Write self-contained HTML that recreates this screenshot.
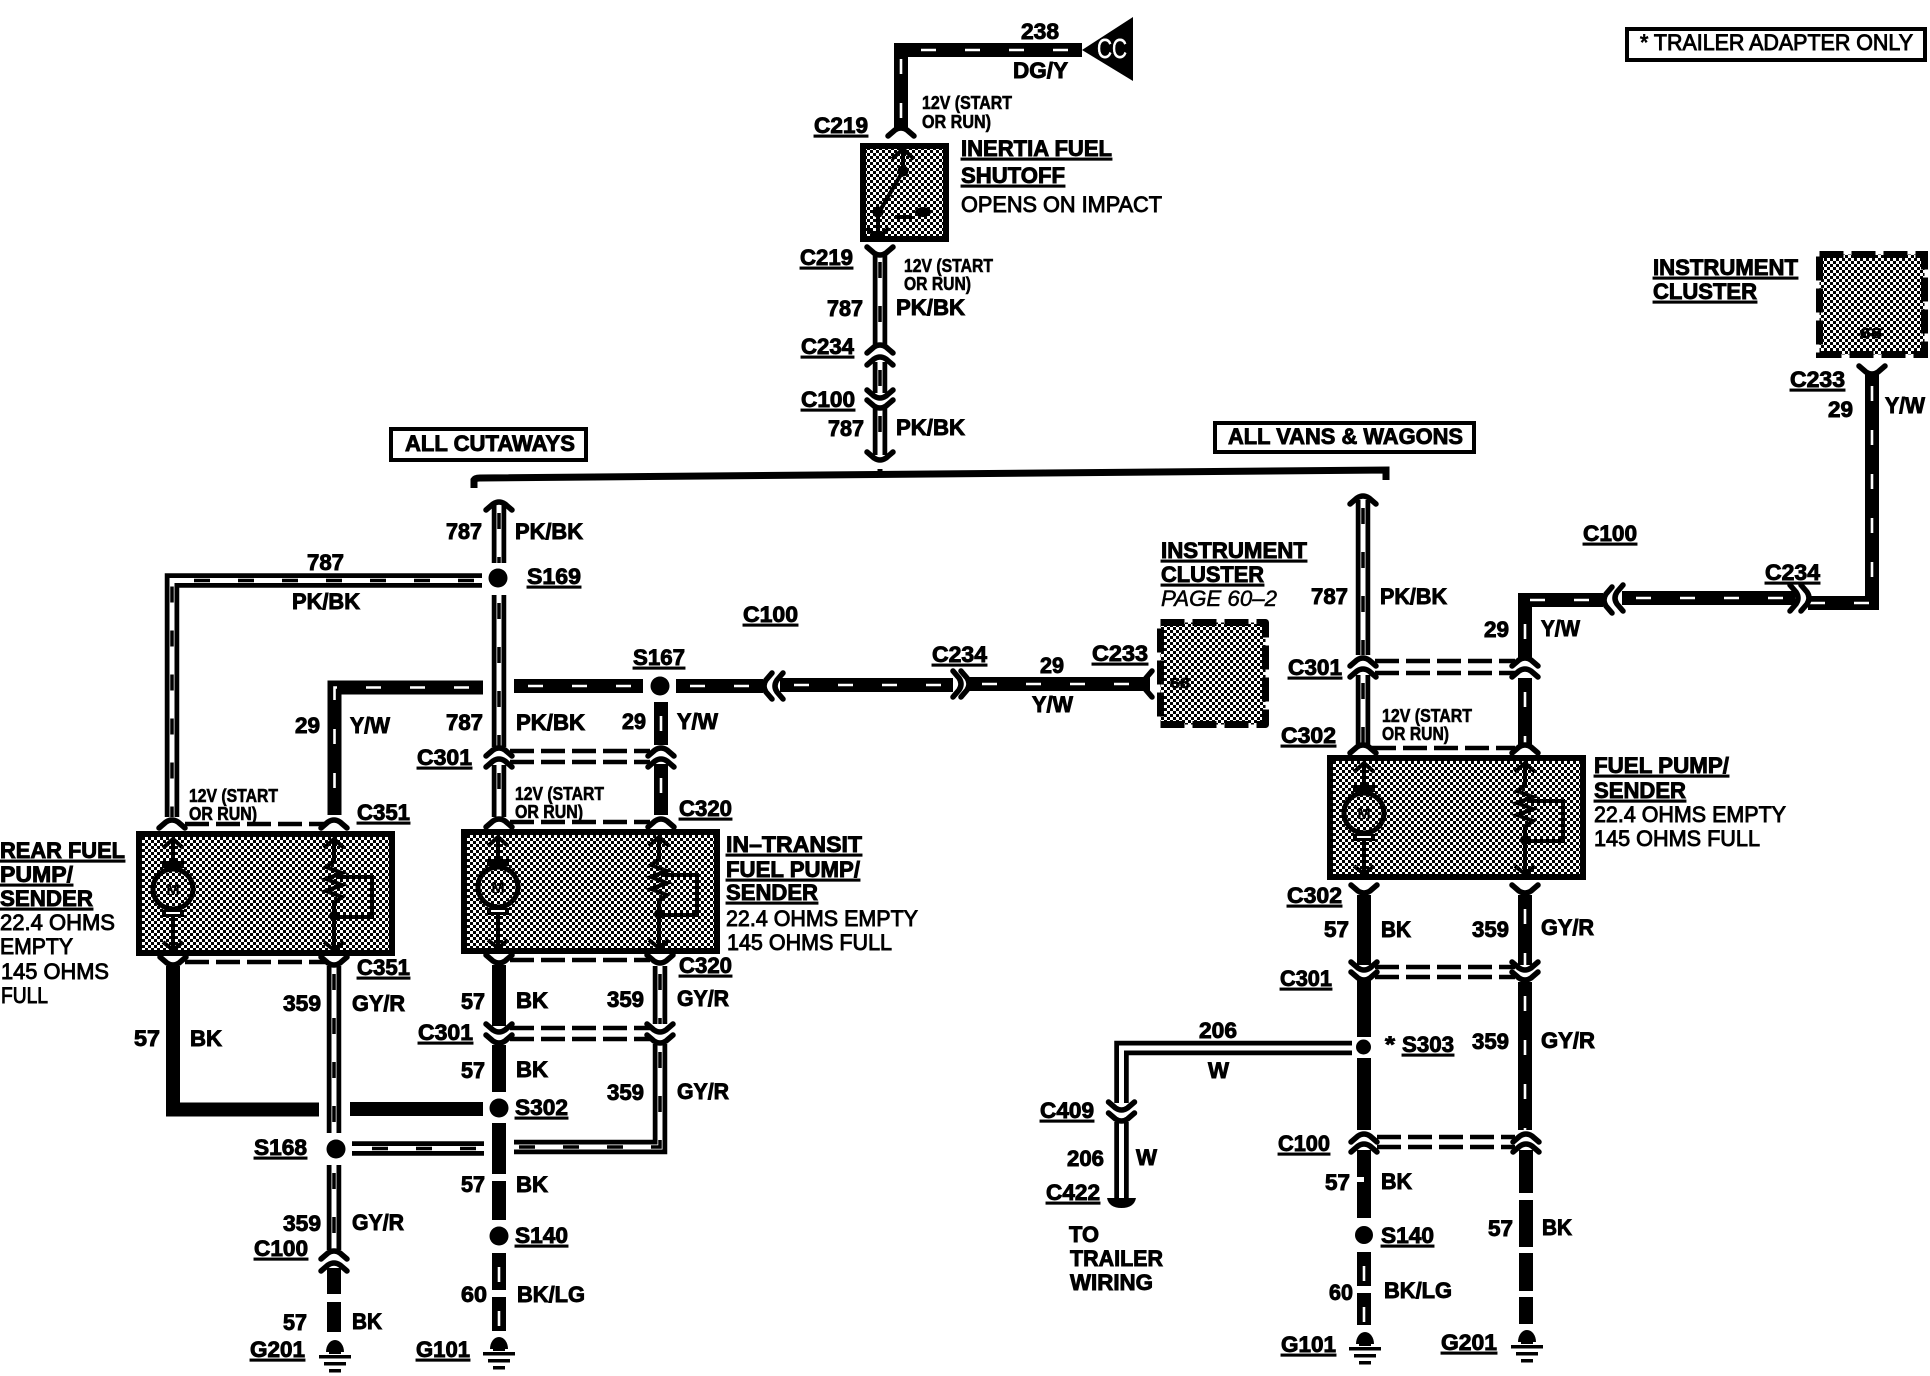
<!DOCTYPE html>
<html><head><meta charset="utf-8"><title>Fuel pump wiring diagram</title>
<style>
html,body{margin:0;padding:0;background:#fff}
svg{display:block}
text{font-family:"Liberation Sans",sans-serif;fill:#000}
.b{font-size:22px;font-weight:bold;stroke:#000;stroke-width:.9px}
.u{text-decoration:underline}
.s{font-size:18px;font-weight:bold;stroke:#000;stroke-width:.6px}
.n{font-size:22px;stroke:#000;stroke-width:.9px}
.k{fill:none;stroke:#000;stroke-width:14}
.t{fill:none;stroke:#fff;stroke-width:2.6;stroke-dasharray:15 29;stroke-dashoffset:-14}
.o1{fill:none;stroke:#000;stroke-width:14.5}
.o2{fill:none;stroke:#fff;stroke-width:5}
.o3{fill:none;stroke:#000;stroke-width:3.5;stroke-dasharray:16 28;stroke-dashoffset:-8}
.d{fill:none;stroke:#000;stroke-width:4.5;stroke-dasharray:24 7}
.f{fill:none;stroke:#000;stroke-width:5.5;stroke-linecap:round;stroke-linejoin:round}
</style></head><body>
<svg xmlns="http://www.w3.org/2000/svg" width="1930" height="1376" viewBox="0 0 1930 1376">
<defs>
<pattern id="p" width="6" height="6" patternUnits="userSpaceOnUse" shape-rendering="crispEdges">
<rect width="6" height="6" fill="#fff"/><rect width="3" height="3" fill="#000"/><rect x="3" y="3" width="3" height="3" fill="#000"/>
</pattern>
<path id="a" class="f" d="M-13 5L-6 -1Q0 -5 6 -1L13 5"/>
<path id="v" class="f" d="M-13 -5L-6 1Q0 5 6 1L13 -5"/>
<g id="gnd">
<path d="M-9 3A9 12 0 0 1 9 3Z" fill="#000"/><rect x="-6" y="2" width="12" height="3" fill="#000"/>
<rect x="-16" y="6" width="32" height="3.5" fill="#000"/><rect x="-11" y="13" width="22" height="3.5" fill="#000"/><rect x="-6" y="20" width="12" height="3.5" fill="#000"/>
</g>
<g id="pump">
<rect x="3" y="3" width="253" height="119" fill="url(#p)" stroke="#000" stroke-width="6"/>
<path d="M37 8V34M37 80V118" fill="none" stroke="#000" stroke-width="4"/>
<path d="M27 17L37 8L47 17M27 111L37 119L47 111" fill="none" stroke="#000" stroke-width="4"/>
<circle cx="37" cy="58" r="20" fill="url(#p)" stroke="#000" stroke-width="5"/>
<rect x="26" y="30" width="22" height="7" fill="#000"/><rect x="26" y="79" width="22" height="7" fill="#000"/>
<rect x="30" y="81" width="14" height="2" fill="#fff"/>
<text x="37" y="64" text-anchor="middle" font-size="16" font-weight="bold">M</text>
<path d="M198 8V30L190 36L206 42L190 48L206 54L190 60L206 66L198 72V118" fill="none" stroke="#000" stroke-width="4"/>
<path d="M188 17L198 8L208 17M188 111L198 119L208 111" fill="none" stroke="#000" stroke-width="4"/>
<circle cx="198" cy="85" r="5" fill="#000"/>
<path d="M200 46H236V86H198" fill="none" stroke="#000" stroke-width="4"/>
</g>
</defs>
<rect width="1930" height="1376" fill="#fff"/>

<!-- top feed -->
<polygon points="1082,50 1133,17 1133,81" fill="#000"/>
<text x="1097" y="58" textLength="30" lengthAdjust="spacingAndGlyphs" font-size="28" style="fill:#fff;stroke:#fff;stroke-width:.5px">CC</text>

<!-- outline wires -->
<path class="o1" d="M880 254V345M880 362V393M880 408V455M499 505V563M499 595V747M499 765V817M482 580.5H172V817M1363 500V655M1363 675V745M334 966V1133M334 1165V1250M660 966V1024M660 1044V1147H514M484 1148.5H352"/>
<path class="o2" d="M880 254V345M880 362V393M880 408V455M499 505V563M499 595V747M499 765V817M482 580.5H172V817M1363 500V655M1363 675V745M334 966V1133M334 1165V1250M660 966V1024M660 1044V1147H514M484 1148.5H352"/>
<path class="o3" d="M880 254V345M880 362V393M880 408V455M499 505V563M499 595V747M499 765V817M482 580.5H172V817M1363 500V655M1363 675V745M334 966V1133M334 1165V1250M660 966V1024M660 1044V1147H514M484 1148.5H352"/>
<path class="o1" d="M1354 1048H1121.5V1103M1121.5 1122V1200"/>
<path class="o2" d="M1354 1048H1121.5V1103M1121.5 1122V1200"/>
<path d="M1107 1198H1136Q1134 1208 1121.5 1208Q1109 1208 1107 1198Z" fill="#000"/>

<!-- solid wires with tracer -->
<path class="k" d="M1082 50H901V128M483 687.5H334.5V815M514 686H643M676 686H763M780 685H953M968 684H1150M661 702V745M661 764V815M1603 600H1525V660M1525 678V745M1622 598H1795M1872 372V603H1808M1525 895V965M1525 982V1130M499 1253V1290M499 1297V1331M1364 1252V1286M1364 1293V1325"/>
<path class="t" d="M1082 50H901V128M483 687.5H334.5V815M514 686H643M676 686H763M780 685H953M968 684H1150M661 702V745M661 764V815M1603 600H1525V660M1525 678V745M1622 598H1795M1872 372V603H1808M1525 895V965M1525 982V1130M499 1253V1290M499 1297V1331M1364 1252V1286M1364 1293V1325"/>

<!-- solid black wires -->
<path class="k" d="M173 966V1109.5H319M350 1109H483M499 965V1026M499 1045V1092M499 1123V1174M499 1181V1220M334 1268V1294M334 1302V1332M1364 895V965M1364 980V1038M1364 1058V1130M1364 1150V1218M1526 1150V1193M1526 1200V1247M1526 1253V1291M1526 1297V1324"/>
<rect x="1355" y="1177" width="9" height="5" fill="#fff"/>

<!-- bus -->
<path d="M474 488V480Q475 478 480 478L1386 470V480" fill="none" stroke="#000" stroke-width="7"/>
<path d="M880 476V469" stroke="#000" stroke-width="5"/>

<!-- dashed links -->
<path class="d" d="M185 824H325M510 822H650M1372 748H1515M185 962H325M510 960H650M510 751H650M510 762H650M510 1028H650M510 1039H650M1375 661H1515M1375 673H1515M1375 967H1515M1375 977H1515M1377 1137H1515M1377 1147H1515"/>

<!-- connector forks -->
<use href="#a" x="901" y="131"/><use href="#v" x="880" y="252"/>
<use href="#a" x="880" y="348"/><use href="#a" x="880" y="360"/>
<use href="#v" x="880" y="395"/><use href="#v" x="880" y="405"/><use href="#v" x="880" y="457"/>
<use href="#a" x="499" y="505"/><use href="#a" x="1363" y="499"/>
<use href="#a" x="499" y="751"/><use href="#a" x="499" y="762"/><use href="#a" x="661" y="751"/><use href="#a" x="661" y="762"/>
<use href="#a" x="499" y="822"/><use href="#a" x="661" y="822"/><use href="#a" x="172" y="823"/><use href="#a" x="334" y="823"/>
<use href="#v" x="499" y="960"/><use href="#v" x="660" y="960"/><use href="#v" x="173" y="962"/><use href="#v" x="334" y="962"/>
<use href="#v" x="499" y="1029"/><use href="#v" x="499" y="1040"/><use href="#v" x="660" y="1029"/><use href="#v" x="660" y="1040"/>
<use href="#a" x="334" y="1254"/><use href="#a" x="334" y="1266"/>
<use href="#v" x="1121.5" y="1107"/><use href="#v" x="1121.5" y="1118"/>
<use href="#a" x="1363" y="661"/><use href="#a" x="1363" y="672"/><use href="#a" x="1525" y="661"/><use href="#a" x="1525" y="672"/>
<use href="#a" x="1363" y="748"/><use href="#a" x="1525" y="748"/>
<use href="#v" x="1364" y="890"/><use href="#v" x="1525" y="890"/>
<use href="#v" x="1364" y="967"/><use href="#v" x="1364" y="977"/><use href="#v" x="1525" y="967"/><use href="#v" x="1525" y="977"/>
<use href="#a" x="1364" y="1137"/><use href="#a" x="1364" y="1147"/><use href="#a" x="1526" y="1137"/><use href="#a" x="1526" y="1147"/>
<use href="#v" x="1872" y="371"/>
<use href="#v" transform="translate(767 686) rotate(90)"/><use href="#v" transform="translate(778 686) rotate(90)"/>
<use href="#v" transform="translate(1607 600) rotate(90)"/><use href="#v" transform="translate(1618 598) rotate(90)"/>
<use href="#a" transform="translate(1795 598) rotate(90)"/><use href="#a" transform="translate(1806 598) rotate(90)"/>
<use href="#a" transform="translate(958 684) rotate(90)"/><use href="#a" transform="translate(966 684) rotate(90)"/>
<use href="#v" transform="translate(1147 684) rotate(90)"/>

<!-- splices -->
<circle cx="498" cy="578" r="9.5"/><circle cx="660" cy="686" r="9.5"/><circle cx="499" cy="1108" r="9.5"/>
<circle cx="336" cy="1149" r="9.5"/><circle cx="499" cy="1236" r="9.5"/><circle cx="1364" cy="1235" r="9"/>
<rect x="1352" y="1037" width="24" height="20" fill="#fff"/><circle cx="1363.5" cy="1047" r="7.5"/>

<!-- grounds -->
<use href="#gnd" x="335" y="1349"/><use href="#gnd" x="499" y="1346"/><use href="#gnd" x="1365" y="1341"/><use href="#gnd" x="1527" y="1339"/>

<!-- inertia switch -->
<rect x="863" y="146" width="83" height="93" fill="url(#p)" stroke="#000" stroke-width="6"/>
<path d="M903 150V171L878 214V236M892 159L903 149L914 159M867 228L878 238L889 228M895 217H912" fill="none" stroke="#000" stroke-width="4"/>
<circle cx="903" cy="171" r="5.5"/><circle cx="878" cy="212" r="5.5"/><ellipse cx="923" cy="212" rx="8" ry="5"/>

<!-- pumps -->
<use href="#pump" x="136" y="831"/><use href="#pump" x="461" y="829"/><use href="#pump" x="1327" y="755"/>

<!-- instrument clusters -->
<rect x="1160.5" y="622.5" width="105" height="102" fill="url(#p)"/>
<rect x="1160.5" y="622.5" width="105" height="102" fill="none" stroke="#000" stroke-width="7" stroke-dasharray="24 8" stroke-linejoin="round"/>
<rect x="1819.5" y="254.5" width="105" height="100" fill="url(#p)"/>
<rect x="1819.5" y="254.5" width="105" height="100" fill="none" stroke="#000" stroke-width="7" stroke-dasharray="24 8"/>
<text x="1170" y="688" font-size="15" font-weight="bold" textLength="20" lengthAdjust="spacingAndGlyphs" style="stroke:#000;stroke-width:.7px">68</text>
<text x="1860" y="338" font-size="15" font-weight="bold" textLength="22" lengthAdjust="spacingAndGlyphs" style="stroke:#000;stroke-width:.7px">68</text>

<!-- note boxes -->
<rect x="1627" y="29" width="298" height="31" fill="none" stroke="#000" stroke-width="4"/>
<rect x="391" y="429" width="195" height="31" fill="none" stroke="#000" stroke-width="4"/>
<rect x="1215" y="423" width="259" height="29" fill="none" stroke="#000" stroke-width="4"/>
<text class="n" x="1640" y="50" textLength="273" lengthAdjust="spacingAndGlyphs">* TRAILER ADAPTER ONLY</text>
<text class="b" x="405" y="451" textLength="170" lengthAdjust="spacingAndGlyphs">ALL CUTAWAYS</text>
<text class="b" x="1228" y="444" textLength="235" lengthAdjust="spacingAndGlyphs">ALL VANS &amp; WAGONS</text>

<!-- top labels -->
<text class="b" x="1021" y="39" textLength="38" lengthAdjust="spacingAndGlyphs">238</text>
<text class="b" x="1013" y="78" textLength="55" lengthAdjust="spacingAndGlyphs">DG/Y</text>
<text class="s" x="922" y="109" textLength="90" lengthAdjust="spacingAndGlyphs">12V (START</text>
<text class="s" x="922" y="128" textLength="69" lengthAdjust="spacingAndGlyphs">OR RUN)</text>
<text class="b u" x="814" y="133" textLength="54" lengthAdjust="spacingAndGlyphs">C219</text>
<text class="b u" x="961" y="156" textLength="151" lengthAdjust="spacingAndGlyphs">INERTIA FUEL</text>
<text class="b u" x="961" y="183" textLength="104" lengthAdjust="spacingAndGlyphs">SHUTOFF</text>
<text class="n" x="961" y="212" textLength="201" lengthAdjust="spacingAndGlyphs">OPENS ON IMPACT</text>
<text class="b u" x="800" y="265" textLength="53" lengthAdjust="spacingAndGlyphs">C219</text>
<text class="s" x="904" y="272" textLength="89" lengthAdjust="spacingAndGlyphs">12V (START</text>
<text class="s" x="904" y="290" textLength="67" lengthAdjust="spacingAndGlyphs">OR RUN)</text>
<text class="b" x="827" y="316" textLength="36" lengthAdjust="spacingAndGlyphs">787</text>
<text class="b" x="896" y="315" textLength="69" lengthAdjust="spacingAndGlyphs">PK/BK</text>
<text class="b u" x="801" y="354" textLength="53" lengthAdjust="spacingAndGlyphs">C234</text>
<text class="b u" x="801" y="407" textLength="54" lengthAdjust="spacingAndGlyphs">C100</text>
<text class="b" x="828" y="436" textLength="36" lengthAdjust="spacingAndGlyphs">787</text>
<text class="b" x="896" y="435" textLength="69" lengthAdjust="spacingAndGlyphs">PK/BK</text>

<!-- upper right -->
<text class="b u" x="1653" y="275" textLength="145" lengthAdjust="spacingAndGlyphs">INSTRUMENT</text>
<text class="b u" x="1653" y="299" textLength="104" lengthAdjust="spacingAndGlyphs">CLUSTER</text>
<text class="b u" x="1790" y="387" textLength="55" lengthAdjust="spacingAndGlyphs">C233</text>
<text class="b" x="1828" y="417" textLength="25" lengthAdjust="spacingAndGlyphs">29</text>
<text class="b" x="1885" y="413" textLength="40" lengthAdjust="spacingAndGlyphs">Y/W</text>
<text class="b u" x="1583" y="541" textLength="54" lengthAdjust="spacingAndGlyphs">C100</text>
<text class="b u" x="1765" y="580" textLength="55" lengthAdjust="spacingAndGlyphs">C234</text>
<text class="b" x="1311" y="604" textLength="37" lengthAdjust="spacingAndGlyphs">787</text>
<text class="b" x="1380" y="604" textLength="67" lengthAdjust="spacingAndGlyphs">PK/BK</text>
<text class="b" x="1484" y="637" textLength="25" lengthAdjust="spacingAndGlyphs">29</text>
<text class="b" x="1541" y="636" textLength="39" lengthAdjust="spacingAndGlyphs">Y/W</text>
<text class="b u" x="1288" y="675" textLength="54" lengthAdjust="spacingAndGlyphs">C301</text>
<text class="s" x="1382" y="722" textLength="90" lengthAdjust="spacingAndGlyphs">12V (START</text>
<text class="s" x="1382" y="740" textLength="67" lengthAdjust="spacingAndGlyphs">OR RUN)</text>
<text class="b u" x="1281" y="743" textLength="55" lengthAdjust="spacingAndGlyphs">C302</text>
<text class="b u" x="1594" y="773" textLength="135" lengthAdjust="spacingAndGlyphs">FUEL PUMP/</text>
<text class="b u" x="1594" y="798" textLength="92" lengthAdjust="spacingAndGlyphs">SENDER</text>
<text class="n" x="1594" y="822" textLength="192" lengthAdjust="spacingAndGlyphs">22.4 OHMS EMPTY</text>
<text class="n" x="1594" y="846" textLength="166" lengthAdjust="spacingAndGlyphs">145 OHMS FULL</text>
<text class="b u" x="1287" y="903" textLength="55" lengthAdjust="spacingAndGlyphs">C302</text>
<text class="b" x="1324" y="937" textLength="25" lengthAdjust="spacingAndGlyphs">57</text>
<text class="b" x="1381" y="937" textLength="30" lengthAdjust="spacingAndGlyphs">BK</text>
<text class="b" x="1472" y="937" textLength="37" lengthAdjust="spacingAndGlyphs">359</text>
<text class="b" x="1541" y="935" textLength="53" lengthAdjust="spacingAndGlyphs">GY/R</text>
<text class="b u" x="1280" y="986" textLength="52" lengthAdjust="spacingAndGlyphs">C301</text>
<text class="b" x="1385" y="1052" textLength="10" lengthAdjust="spacingAndGlyphs">*</text>
<text class="b u" x="1402" y="1052" textLength="52" lengthAdjust="spacingAndGlyphs">S303</text>
<text class="b" x="1472" y="1049" textLength="37" lengthAdjust="spacingAndGlyphs">359</text>
<text class="b" x="1541" y="1048" textLength="54" lengthAdjust="spacingAndGlyphs">GY/R</text>
<text class="b" x="1199" y="1038" textLength="38" lengthAdjust="spacingAndGlyphs">206</text>
<text class="b" x="1208" y="1078" textLength="21" lengthAdjust="spacingAndGlyphs">W</text>
<text class="b u" x="1040" y="1118" textLength="54" lengthAdjust="spacingAndGlyphs">C409</text>
<text class="b" x="1067" y="1166" textLength="37" lengthAdjust="spacingAndGlyphs">206</text>
<text class="b" x="1136" y="1165" textLength="21" lengthAdjust="spacingAndGlyphs">W</text>
<text class="b u" x="1046" y="1200" textLength="54" lengthAdjust="spacingAndGlyphs">C422</text>
<text class="b" x="1069" y="1242" textLength="30" lengthAdjust="spacingAndGlyphs">TO</text>
<text class="b" x="1070" y="1266" textLength="93" lengthAdjust="spacingAndGlyphs">TRAILER</text>
<text class="b" x="1070" y="1290" textLength="83" lengthAdjust="spacingAndGlyphs">WIRING</text>
<text class="b u" x="1278" y="1151" textLength="52" lengthAdjust="spacingAndGlyphs">C100</text>
<text class="b" x="1325" y="1190" textLength="25" lengthAdjust="spacingAndGlyphs">57</text>
<text class="b" x="1381" y="1189" textLength="31" lengthAdjust="spacingAndGlyphs">BK</text>
<text class="b u" x="1381" y="1243" textLength="53" lengthAdjust="spacingAndGlyphs">S140</text>
<text class="b" x="1329" y="1300" textLength="24" lengthAdjust="spacingAndGlyphs">60</text>
<text class="b" x="1384" y="1298" textLength="68" lengthAdjust="spacingAndGlyphs">BK/LG</text>
<text class="b u" x="1281" y="1352" textLength="55" lengthAdjust="spacingAndGlyphs">G101</text>
<text class="b u" x="1441" y="1350" textLength="56" lengthAdjust="spacingAndGlyphs">G201</text>
<text class="b" x="1488" y="1236" textLength="25" lengthAdjust="spacingAndGlyphs">57</text>
<text class="b" x="1542" y="1235" textLength="30" lengthAdjust="spacingAndGlyphs">BK</text>

<!-- center -->
<text class="b u" x="1161" y="558" textLength="146" lengthAdjust="spacingAndGlyphs">INSTRUMENT</text>
<text class="b u" x="1161" y="582" textLength="103" lengthAdjust="spacingAndGlyphs">CLUSTER</text>
<text class="n" x="1161" y="606" font-style="italic" textLength="116" lengthAdjust="spacingAndGlyphs" style="stroke-width:.5px">PAGE 60–2</text>
<text class="b u" x="932" y="662" textLength="55" lengthAdjust="spacingAndGlyphs">C234</text>
<text class="b" x="1040" y="673" textLength="24" lengthAdjust="spacingAndGlyphs">29</text>
<text class="b u" x="1092" y="661" textLength="56" lengthAdjust="spacingAndGlyphs">C233</text>
<text class="b" x="1032" y="712" textLength="41" lengthAdjust="spacingAndGlyphs">Y/W</text>
<text class="b u" x="743" y="622" textLength="55" lengthAdjust="spacingAndGlyphs">C100</text>

<!-- left -->
<text class="b" x="446" y="539" textLength="36" lengthAdjust="spacingAndGlyphs">787</text>
<text class="b" x="515" y="539" textLength="68" lengthAdjust="spacingAndGlyphs">PK/BK</text>
<text class="b u" x="527" y="584" textLength="54" lengthAdjust="spacingAndGlyphs">S169</text>
<text class="b" x="307" y="570" textLength="37" lengthAdjust="spacingAndGlyphs">787</text>
<text class="b" x="292" y="609" textLength="68" lengthAdjust="spacingAndGlyphs">PK/BK</text>
<text class="b u" x="633" y="665" textLength="52" lengthAdjust="spacingAndGlyphs">S167</text>
<text class="b" x="295" y="733" textLength="25" lengthAdjust="spacingAndGlyphs">29</text>
<text class="b" x="350" y="733" textLength="40" lengthAdjust="spacingAndGlyphs">Y/W</text>
<text class="b" x="446" y="730" textLength="37" lengthAdjust="spacingAndGlyphs">787</text>
<text class="b" x="516" y="730" textLength="69" lengthAdjust="spacingAndGlyphs">PK/BK</text>
<text class="b" x="622" y="729" textLength="24" lengthAdjust="spacingAndGlyphs">29</text>
<text class="b" x="677" y="729" textLength="41" lengthAdjust="spacingAndGlyphs">Y/W</text>
<text class="b u" x="417" y="765" textLength="55" lengthAdjust="spacingAndGlyphs">C301</text>
<text class="s" x="189" y="802" textLength="89" lengthAdjust="spacingAndGlyphs">12V (START</text>
<text class="s" x="189" y="820" textLength="68" lengthAdjust="spacingAndGlyphs">OR RUN)</text>
<text class="s" x="515" y="800" textLength="89" lengthAdjust="spacingAndGlyphs">12V (START</text>
<text class="s" x="515" y="818" textLength="68" lengthAdjust="spacingAndGlyphs">OR RUN)</text>
<text class="b u" x="357" y="820" textLength="53" lengthAdjust="spacingAndGlyphs">C351</text>
<text class="b u" x="679" y="816" textLength="53" lengthAdjust="spacingAndGlyphs">C320</text>
<text class="b u" x="0" y="858" textLength="125" lengthAdjust="spacingAndGlyphs">REAR FUEL</text>
<text class="b u" x="0" y="882" textLength="73" lengthAdjust="spacingAndGlyphs">PUMP/</text>
<text class="b u" x="0" y="906" textLength="93" lengthAdjust="spacingAndGlyphs">SENDER</text>
<text class="n" x="0" y="930" textLength="115" lengthAdjust="spacingAndGlyphs">22.4 OHMS</text>
<text class="n" x="0" y="954" textLength="73" lengthAdjust="spacingAndGlyphs">EMPTY</text>
<text class="n" x="1" y="979" textLength="108" lengthAdjust="spacingAndGlyphs">145 OHMS</text>
<text class="n" x="1" y="1003" textLength="47" lengthAdjust="spacingAndGlyphs">FULL</text>
<text class="b u" x="726" y="852" textLength="136" lengthAdjust="spacingAndGlyphs">IN–TRANSIT</text>
<text class="b u" x="726" y="877" textLength="134" lengthAdjust="spacingAndGlyphs">FUEL PUMP/</text>
<text class="b u" x="726" y="900" textLength="92" lengthAdjust="spacingAndGlyphs">SENDER</text>
<text class="n" x="726" y="926" textLength="192" lengthAdjust="spacingAndGlyphs">22.4 OHMS EMPTY</text>
<text class="n" x="727" y="950" textLength="165" lengthAdjust="spacingAndGlyphs">145 OHMS FULL</text>
<text class="b u" x="357" y="975" textLength="53" lengthAdjust="spacingAndGlyphs">C351</text>
<text class="b u" x="679" y="973" textLength="53" lengthAdjust="spacingAndGlyphs">C320</text>
<text class="b" x="283" y="1011" textLength="38" lengthAdjust="spacingAndGlyphs">359</text>
<text class="b" x="352" y="1011" textLength="53" lengthAdjust="spacingAndGlyphs">GY/R</text>
<text class="b" x="134" y="1046" textLength="26" lengthAdjust="spacingAndGlyphs">57</text>
<text class="b" x="190" y="1046" textLength="32" lengthAdjust="spacingAndGlyphs">BK</text>
<text class="b" x="461" y="1009" textLength="24" lengthAdjust="spacingAndGlyphs">57</text>
<text class="b" x="516" y="1008" textLength="32" lengthAdjust="spacingAndGlyphs">BK</text>
<text class="b" x="607" y="1007" textLength="37" lengthAdjust="spacingAndGlyphs">359</text>
<text class="b" x="677" y="1006" textLength="52" lengthAdjust="spacingAndGlyphs">GY/R</text>
<text class="b u" x="418" y="1040" textLength="55" lengthAdjust="spacingAndGlyphs">C301</text>
<text class="b" x="461" y="1078" textLength="24" lengthAdjust="spacingAndGlyphs">57</text>
<text class="b" x="516" y="1077" textLength="32" lengthAdjust="spacingAndGlyphs">BK</text>
<text class="b" x="607" y="1100" textLength="37" lengthAdjust="spacingAndGlyphs">359</text>
<text class="b" x="677" y="1099" textLength="52" lengthAdjust="spacingAndGlyphs">GY/R</text>
<text class="b u" x="515" y="1115" textLength="53" lengthAdjust="spacingAndGlyphs">S302</text>
<text class="b u" x="254" y="1155" textLength="53" lengthAdjust="spacingAndGlyphs">S168</text>
<text class="b" x="461" y="1192" textLength="24" lengthAdjust="spacingAndGlyphs">57</text>
<text class="b" x="516" y="1192" textLength="32" lengthAdjust="spacingAndGlyphs">BK</text>
<text class="b" x="283" y="1231" textLength="38" lengthAdjust="spacingAndGlyphs">359</text>
<text class="b" x="352" y="1230" textLength="52" lengthAdjust="spacingAndGlyphs">GY/R</text>
<text class="b u" x="515" y="1243" textLength="53" lengthAdjust="spacingAndGlyphs">S140</text>
<text class="b u" x="254" y="1256" textLength="54" lengthAdjust="spacingAndGlyphs">C100</text>
<text class="b" x="461" y="1302" textLength="26" lengthAdjust="spacingAndGlyphs">60</text>
<text class="b" x="517" y="1302" textLength="68" lengthAdjust="spacingAndGlyphs">BK/LG</text>
<text class="b" x="283" y="1330" textLength="24" lengthAdjust="spacingAndGlyphs">57</text>
<text class="b" x="352" y="1329" textLength="30" lengthAdjust="spacingAndGlyphs">BK</text>
<text class="b u" x="250" y="1357" textLength="55" lengthAdjust="spacingAndGlyphs">G201</text>
<text class="b u" x="416" y="1357" textLength="54" lengthAdjust="spacingAndGlyphs">G101</text>
</svg>
</body></html>
